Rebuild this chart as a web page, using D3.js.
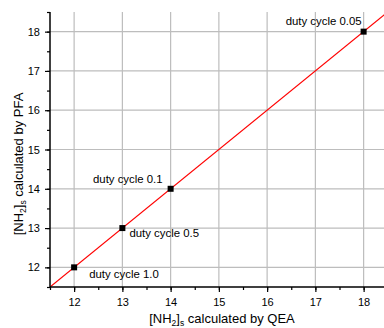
<!DOCTYPE html>
<html><head><meta charset="utf-8">
<script src="https://cdn.jsdelivr.net/npm/d3@7"></script>
<style>body{margin:0;background:#fff}svg{display:block}text{font-family:"Liberation Sans",Arial,sans-serif}</style>
</head><body>
<script>
const qea = [12, 13, 14, 18];
const pfa = [12, 13, 14, 18];
const labels = ["duty cycle 1.0", "duty cycle 0.5", "duty cycle 0.1", "duty cycle 0.05"];
const xTicks = [12, 13, 14, 15, 16, 17, 18];
const yTicks = [12, 13, 14, 15, 16, 17, 18];
const fitLine = [11.5, 18.5];

const W = 384, H = 328;
const m = {left: 50, top: 12, bottom: 287};
const svg = d3.select("body").append("svg").attr("width", W).attr("height", H);
const x = d3.scaleLinear().domain([11.5, 18.5]).range([m.left, m.left + 7 * 48.25]);
const y = d3.scaleLinear().domain([11.5, 18.5]).range([m.bottom, m.top]);

svg.append("clipPath").attr("id", "c").append("rect")
  .attr("x", m.left).attr("y", m.top).attr("width", W - m.left).attr("height", m.bottom - m.top);

// grid
const g = svg.append("g").attr("clip-path", "url(#c)");
g.selectAll(".gx").data(xTicks).join("line")
  .attr("x1", d => x(d)).attr("x2", d => x(d)).attr("y1", m.top).attr("y2", m.bottom)
  .attr("stroke", "#bdbdbd").attr("stroke-width", 1.2);
g.selectAll(".gy").data(yTicks).join("line")
  .attr("y1", d => y(d)).attr("y2", d => y(d)).attr("x1", m.left).attr("x2", W)
  .attr("stroke", "#bdbdbd").attr("stroke-width", 1.2);

// fit line
g.append("line").attr("x1", x(fitLine[0])).attr("y1", y(fitLine[0]))
  .attr("x2", x(fitLine[1])).attr("y2", y(fitLine[1]))
  .attr("stroke", "#ff0000").attr("stroke-width", 1.2);

// axes
const minorX = d3.range(11.5, 18.6, 0.5);
const xAxisMinor = d3.axisBottom(x).tickValues(minorX).tickSize(3).tickFormat("");
const xAxis = d3.axisBottom(x).tickValues(xTicks).tickSize(5).tickPadding(6).tickFormat(d3.format("d"));
const yAxisMinor = d3.axisLeft(y).tickValues(minorX).tickSize(3).tickFormat("");
const yAxis = d3.axisLeft(y).tickValues(yTicks).tickSize(5).tickPadding(5).tickFormat(d3.format("d"));

function style(sel){
  sel.select(".domain").remove();
  sel.selectAll("line").attr("stroke", "#000").attr("stroke-width", 1.2);
  sel.selectAll("text").attr("font-size", 11).attr("fill", "#000").attr("font-family", '"Liberation Sans",Arial,sans-serif');
}
svg.append("g").attr("transform", `translate(0,${m.bottom})`).call(xAxisMinor).call(style);
svg.append("g").attr("transform", `translate(0,${m.bottom})`).call(xAxis).call(style);
svg.append("g").attr("transform", `translate(${m.left},0)`).call(yAxisMinor).call(style);
svg.append("g").attr("transform", `translate(${m.left},0)`).call(yAxis).call(style);
svg.append("line").attr("x1", m.left).attr("x2", W).attr("y1", m.bottom).attr("y2", m.bottom).attr("stroke", "#000").attr("stroke-width", 1.5);
svg.append("line").attr("x1", m.left).attr("x2", m.left).attr("y1", m.top).attr("y2", m.bottom).attr("stroke", "#000").attr("stroke-width", 1.5);

// points
svg.selectAll(".pt").data(qea).join("rect")
  .attr("x", (d) => x(d) - 3).attr("y", (d, i) => y(pfa[i]) - 3)
  .attr("width", 6).attr("height", 6).attr("fill", "#000");

// labels
const lab = [
  {dx: 15, dy: 8, anchor: "start"},
  {dx: 7, dy: 6, anchor: "start"},
  {dx: -8, dy: -9, anchor: "end"},
  {dx: -2, dy: -10, anchor: "end"}
];
svg.selectAll(".lb").data(labels).join("text")
  .attr("x", (d, i) => x(qea[i]) + lab[i].dx)
  .attr("y", (d, i) => y(pfa[i]) + lab[i].dy)
  .attr("text-anchor", (d, i) => lab[i].anchor)
  .attr("dominant-baseline", "middle")
  .attr("font-size", 11.4).attr("fill", "#000").text(d => d);

// axis titles
const xt = svg.append("text").attr("x", 222).attr("y", 323).attr("text-anchor", "middle").attr("font-size", 13);
xt.append("tspan").text("[NH");
xt.append("tspan").attr("font-size", 8.5).attr("dy", 3).text("2");
xt.append("tspan").attr("dy", -3).text("]");
xt.append("tspan").attr("font-size", 8.5).attr("dy", 3).text("s");
xt.append("tspan").attr("dy", -3).text(" calculated by QEA");

const yt = svg.append("text").attr("transform", "translate(23,164) rotate(-90)").attr("text-anchor", "middle").attr("font-size", 13);
yt.append("tspan").text("[NH");
yt.append("tspan").attr("font-size", 8.5).attr("dy", 3).text("2");
yt.append("tspan").attr("dy", -3).text("]");
yt.append("tspan").attr("font-size", 8.5).attr("dy", 3).text("s");
yt.append("tspan").attr("dy", -3).text(" calculated by PFA");
</script>
</body></html>
